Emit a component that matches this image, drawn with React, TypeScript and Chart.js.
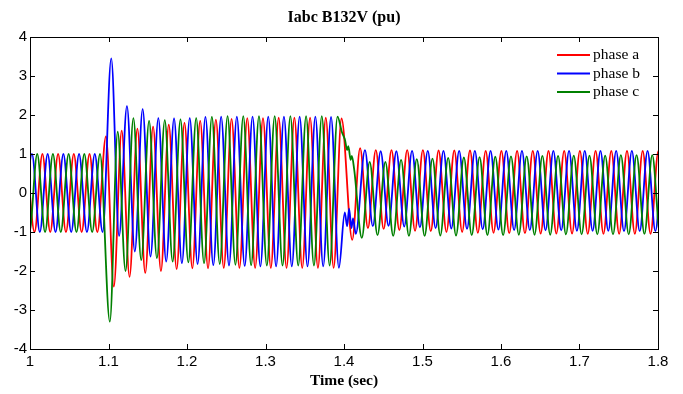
import React, { useEffect, useRef } from 'react';
import { Chart, registerables } from 'chart.js';

Chart.register(...registerables);

const TITLE = 'Iabc B132V (pu)';
const X_LABEL = 'Time (sec)';
const X_TICKS = [1, 1.1, 1.2, 1.3, 1.4, 1.5, 1.6, 1.7, 1.8];
const Y_TICKS = [-4, -3, -2, -1, 0, 1, 2, 3, 4];
const SERIES_NAMES = ['phase a', 'phase b', 'phase c'];
const SERIES_COLORS = ['#ff0000', '#0000ff', '#008000'];

// Successive peaks / troughs of each waveform are one half-cycle (50 Hz) apart.
const HALF_CYCLE = 0.01;

// ---- phase a (red) ----
const A_PRE_START = 0.9958;
const A_PRE = [1, -1, 1, -1, 1, -1, 1, -1, 1, -1];
const A_FAULT_START = 1.0968;
const A_FAULT = [
  1.45, -2.4, 1.6, -2.15, 1.65, -2.05, 1.7, -2.0, 1.75, -1.95,
  1.8, -1.93, 1.85, -1.93, 1.88, -1.92, 1.9, -1.92, 1.92, -1.92,
  1.92, -1.92, 1.93, -1.92, 1.93, -1.92, 1.93, -1.92, 1.93, -1.92, 1.91,
];
const A_CLEAR: [number, number][] = [];
const A_POST_START = 1.4105;
const A_POST = [
  -1.2, 1.15, -0.9, 1.1, -0.92, 1.1, -0.95, 1.1, -0.97, 1.1,
  -0.98, 1.09, -1.0, 1.09, -1.0, 1.09, -1.02, 1.08, -1.02, 1.08,
  -1.03, 1.08, -1.03, 1.08, -1.04, 1.08, -1.04, 1.08, -1.04, 1.08,
  -1.05, 1.08, -1.05, 1.08, -1.05, 1.08, -1.05, 1.08, -1.05, 1.08, -1.05,
];

// ---- phase b (blue) ----
const B_PRE_START = 0.9925;
const B_PRE = [-1, 1, -1, 1, -1, 1, -1, 1, -1, 1, -1];
const B_FAULT_START = 1.1035;
const B_FAULT = [
  3.45, -1.1, 2.23, -1.5, 2.15, -1.63, 1.92, -1.76, 1.91, -1.8,
  1.92, -1.82, 1.95, -1.85, 1.96, -1.86, 1.96, -1.87, 1.96, -1.88,
  1.96, -1.88, 1.96, -1.88, 1.96, -1.88, 1.96, -1.88, 1.95, -1.92,
];
const B_CLEAR: [number, number][] = [
  [1.401, -0.5], [1.404, -0.85], [1.4065, -0.4], [1.4095, -0.9], [1.4115, -0.65], [1.415, -1.05],
];
const B_POST_START = 1.4267;
const B_POST = [
  1.1, -0.85, 1.07, -0.84, 1.07, -0.86, 1.08, -0.88, 1.08, -0.9,
  1.08, -0.91, 1.08, -0.92, 1.08, -0.93, 1.08, -0.94, 1.08, -0.95,
  1.08, -0.95, 1.08, -0.96, 1.08, -0.96, 1.08, -0.97, 1.08, -0.97,
  1.08, -0.97, 1.08, -0.98, 1.08, -0.98, 1.08, -0.98, 1.08, -0.98,
];

// ---- phase c (green) ----
const C_PRE_START = 0.9892;
const C_PRE = [1, -1, 1, -1, 1, -1, 1, -1, 1, -1, 1];
const C_FAULT_START = 1.1017;
const C_FAULT = [
  -3.3, 1.57, -2.0, 1.92, -1.72, 1.85, -1.67, 1.87, -1.76, 1.89,
  -1.78, 1.92, -1.8, 1.95, -1.82, 1.97, -1.84, 1.97, -1.85, 1.97,
  -1.86, 1.97, -1.86, 1.97, -1.86, 1.97, -1.86, 1.97, -1.86, 1.96,
];
const C_CLEAR: [number, number][] = [
  [1.3975, 1.55], [1.4013, 1.36], [1.404, 1.1], [1.4055, 1.2], [1.4085, 0.85], [1.41, 0.95], [1.413, 0.6],
];
const C_POST_START = 1.4227;
const C_POST = [
  -1.15, 0.8, -1.08, 0.8, -1.1, 0.85, -1.1, 0.87, -1.1, 0.88,
  -1.09, 0.9, -1.09, 0.91, -1.08, 0.92, -1.08, 0.93, -1.08, 0.94,
  -1.07, 0.94, -1.07, 0.95, -1.07, 0.95, -1.06, 0.96, -1.06, 0.96,
  -1.06, 0.96, -1.06, 0.97, -1.06, 0.97, -1.05, 0.97, -1.05, 0.97,
];

type Pt = { x: number; y: number };

function segment(start: number, values: number[]): Pt[] {
  return values.map((v, i) => ({ x: start + i * HALF_CYCLE, y: v }));
}
function pairs(list: [number, number][]): Pt[] {
  return list.map(([x, y]) => ({ x, y }));
}

const SERIES: Pt[][] = [
  [...segment(A_PRE_START, A_PRE), ...segment(A_FAULT_START, A_FAULT), ...pairs(A_CLEAR), ...segment(A_POST_START, A_POST)],
  [...segment(B_PRE_START, B_PRE), ...segment(B_FAULT_START, B_FAULT), ...pairs(B_CLEAR), ...segment(B_POST_START, B_POST)],
  [...segment(C_PRE_START, C_PRE), ...segment(C_FAULT_START, C_FAULT), ...pairs(C_CLEAR), ...segment(C_POST_START, C_POST)],
];

const framePlugin = {
  id: 'matlabFrame',
  afterDraw(chart: any) {
    const { ctx, chartArea } = chart;
    const { left, right, top, bottom } = chartArea;
    const xs = chart.scales.x;
    const ys = chart.scales.y;
    ctx.save();
    ctx.strokeStyle = '#000';
    ctx.lineWidth = 1;
    ctx.strokeRect(left + 0.5, top + 0.5, right - left, bottom - top);
    ctx.beginPath();
    const tl = 5;
    X_TICKS.forEach((v) => {
      const px = Math.round(xs.getPixelForValue(v)) + 0.5;
      ctx.moveTo(px, bottom);
      ctx.lineTo(px, bottom - tl);
      ctx.moveTo(px, top);
      ctx.lineTo(px, top + tl);
    });
    Y_TICKS.forEach((v) => {
      const py = Math.round(ys.getPixelForValue(v)) + 0.5;
      ctx.moveTo(left, py);
      ctx.lineTo(left + tl, py);
      ctx.moveTo(right, py);
      ctx.lineTo(right - tl, py);
    });
    ctx.stroke();

    // title
    ctx.fillStyle = '#000';
    ctx.font = 'bold 16px "Liberation Serif"';
    ctx.textAlign = 'center';
    ctx.textBaseline = 'middle';
    ctx.fillText(TITLE, (left + right) / 2, top - 19);

    // legend
    ctx.font = '15.5px "Liberation Serif"';
    ctx.textAlign = 'left';
    chart.data.datasets.forEach((ds: any, i: number) => {
      const y = top + 18 + i * 18.5;
      ctx.strokeStyle = ds.borderColor;
      ctx.lineWidth = 1.8;
      ctx.beginPath();
      ctx.moveTo(right - 101, y);
      ctx.lineTo(right - 68, y);
      ctx.stroke();
      ctx.fillStyle = '#000';
      ctx.fillText(ds.label, right - 65, y);
    });
    ctx.restore();
  },
};

export default function App() {
  const canvasRef = useRef<HTMLCanvasElement | null>(null);

  useEffect(() => {
    document.body.style.margin = '0';
    const canvas = canvasRef.current;
    if (!canvas) return;
    const chart = new Chart(canvas, {
      type: 'line',
      data: {
        datasets: SERIES.map((pts, i) => ({
          label: SERIES_NAMES[i],
          data: pts,
          borderColor: SERIES_COLORS[i],
          backgroundColor: SERIES_COLORS[i],
          borderWidth: 1.8,
          pointRadius: 0,
          cubicInterpolationMode: 'monotone' as const,
          fill: false,
          order: 3 - i,
        })),
      },
      options: {
        animation: false,
        responsive: false,
        devicePixelRatio: 1,
        events: [],
        layout: { padding: { top: 37, right: 25, left: 0, bottom: 0 } },
        plugins: {
          legend: { display: false },
          tooltip: { enabled: false },
          title: { display: false },
        },
        scales: {
          x: {
            type: 'linear',
            min: 1,
            max: 1.8,
            afterBuildTicks: (scale: any) => {
              scale.ticks = X_TICKS.map((v) => ({ value: v }));
            },
            afterFit: (scale: any) => {
              scale.height = 45;
            },
            grid: { display: false, drawTicks: false },
            border: { display: false },
            ticks: {
              autoSkip: false,
              maxRotation: 0,
              padding: 4,
              color: '#000',
              font: { family: 'Liberation Sans', size: 15 },
              callback: (v: any) => String(v),
            },
            title: {
              display: true,
              text: X_LABEL,
              color: '#000',
              font: { family: 'Liberation Serif', size: 15.5, weight: 'bold' },
              padding: { top: 0, bottom: 4 },
            },
          },
          y: {
            type: 'linear',
            min: -4,
            max: 4,
            afterBuildTicks: (scale: any) => {
              scale.ticks = Y_TICKS.map((v) => ({ value: v }));
            },
            afterFit: (scale: any) => {
              scale.width = 30;
            },
            grid: { display: false, drawTicks: false },
            border: { display: false },
            ticks: {
              padding: 3,
              color: '#000',
              font: { family: 'Liberation Sans', size: 15 },
              callback: (v: any) => String(v),
            },
          },
        },
      },
      plugins: [framePlugin],
    } as any);
    return () => chart.destroy();
  }, []);

  return (
    <div style={{ width: 683, height: 394, background: '#fff' }}>
      <canvas ref={canvasRef} width={683} height={394} style={{ display: 'block' }} />
    </div>
  );
}
